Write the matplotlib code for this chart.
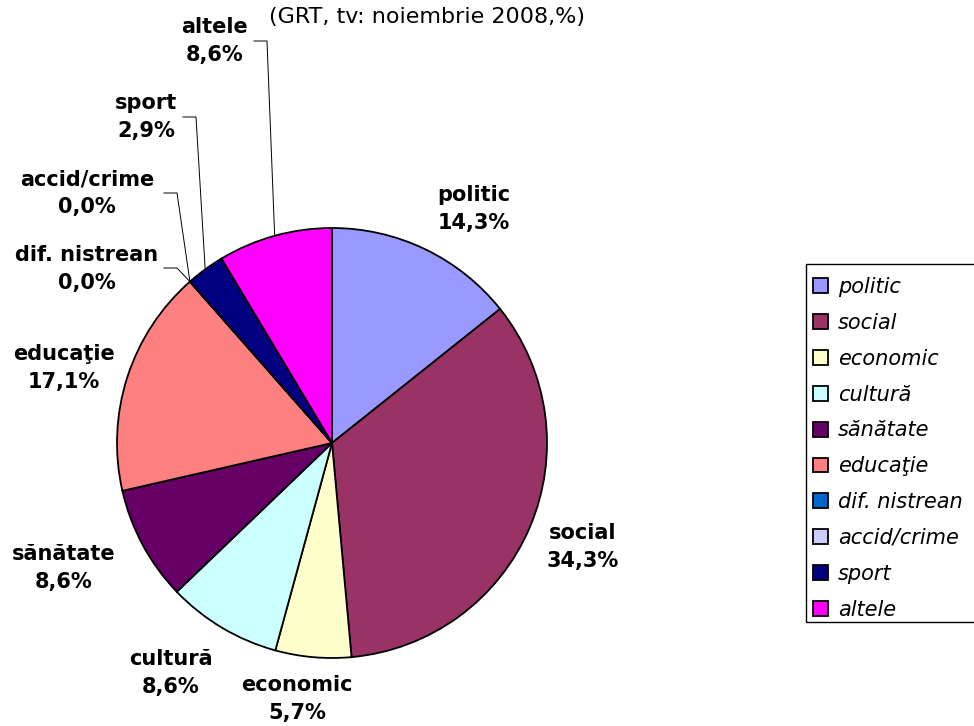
import numpy as np
import matplotlib.pyplot as plt
from matplotlib.lines import Line2D
from matplotlib.patches import Patch, Rectangle

# date
categorii = ['politic', 'social', 'economic', 'cultură', 'sănătate', 'educaţie',
             'dif. nistrean', 'accid/crime', 'sport', 'altele']
valori = [14.3, 34.3, 5.7, 8.6, 8.6, 17.1, 0.0, 0.0, 2.9, 8.6]
etichete = ['14,3%', '34,3%', '5,7%', '8,6%', '8,6%', '17,1%', '0,0%', '0,0%', '2,9%', '8,6%']
culori = ['#9999FF', '#993366', '#FFFFCC', '#CCFFFF', '#660066', '#FF8080',
          '#0066CC', '#CCCCFF', '#000080', '#FF00FF']
titlu = '(GRT, tv: noiembrie 2008,%)'

W, H = 974, 726
fig = plt.figure(figsize=(W / 100, H / 100), dpi=100)

# pozitia placintei (pixeli)
cx, cy, r = 332, 443, 215
ax = fig.add_axes([(cx - r) / W, (H - cy - r) / H, 2 * r / W, 2 * r / H])
wedges, _ = ax.pie(valori, colors=culori, startangle=90, counterclock=False,
                   radius=1, wedgeprops=dict(edgecolor='black', linewidth=1.3))
ax.set_xlim(-1, 1)
ax.set_ylim(-1, 1)
ax.axis('off')

# pozitia etichetelor (pixeli, centru text) si coltul liniei de ghidare
pozitii = [(474, 209), (583, 547), (297, 699), (171, 673), (64, 568), (64, 368),
           (87, 269), (87, 193), (146, 117), (215, 41)]
ghidaj = {6: (177, 268), 7: (177, 193), 8: (196, 117), 9: (267, 41)}

for i, (nume, et) in enumerate(zip(categorii, etichete)):
    px, py = pozitii[i]
    fig.text(px / W, 1 - py / H, nume + '\n' + et, ha='center', va='center',
             fontsize=15, fontweight='bold', linespacing=1.45)

fig.text(427 / W, 1 - 17 / H, titlu, ha='center', va='center', fontsize=16)

# linii de ghidare pentru felii mici
total = sum(valori)
cum = np.cumsum([0] + valori)
for i, (ex, ey) in ghidaj.items():
    frac = (cum[i] + valori[i] / 2) / total
    ang = np.deg2rad(90 - frac * 360)
    wx, wy = ax.transData.transform((np.cos(ang), np.sin(ang)))
    wy = H - wy
    lx = ex - 13
    fig.add_artist(Line2D([wx / W, ex / W, lx / W],
                          [1 - wy / H, 1 - ey / H, 1 - ey / H],
                          color='black', linewidth=0.7))

# legenda (cadrul iese din imagine in dreapta)
fig.add_artist(Rectangle((806 / W, 1 - 622 / H), 180 / W, 358 / H,
                         transform=fig.transFigure, facecolor='white',
                         edgecolor='black', linewidth=1.0))
handles = [Patch(facecolor=c, edgecolor='black', linewidth=1.3) for c in culori]
leg = fig.legend(handles, categorii, loc='upper left',
                 bbox_to_anchor=(806 / W, 1 - 270 / H), borderaxespad=0,
                 prop={'style': 'italic', 'size': 15},
                 frameon=False, handlelength=0.72, handleheight=0.72,
                 handletextpad=0.48, labelspacing=0.76, borderpad=0.34)

fig.savefig('out.png', dpi=100)
